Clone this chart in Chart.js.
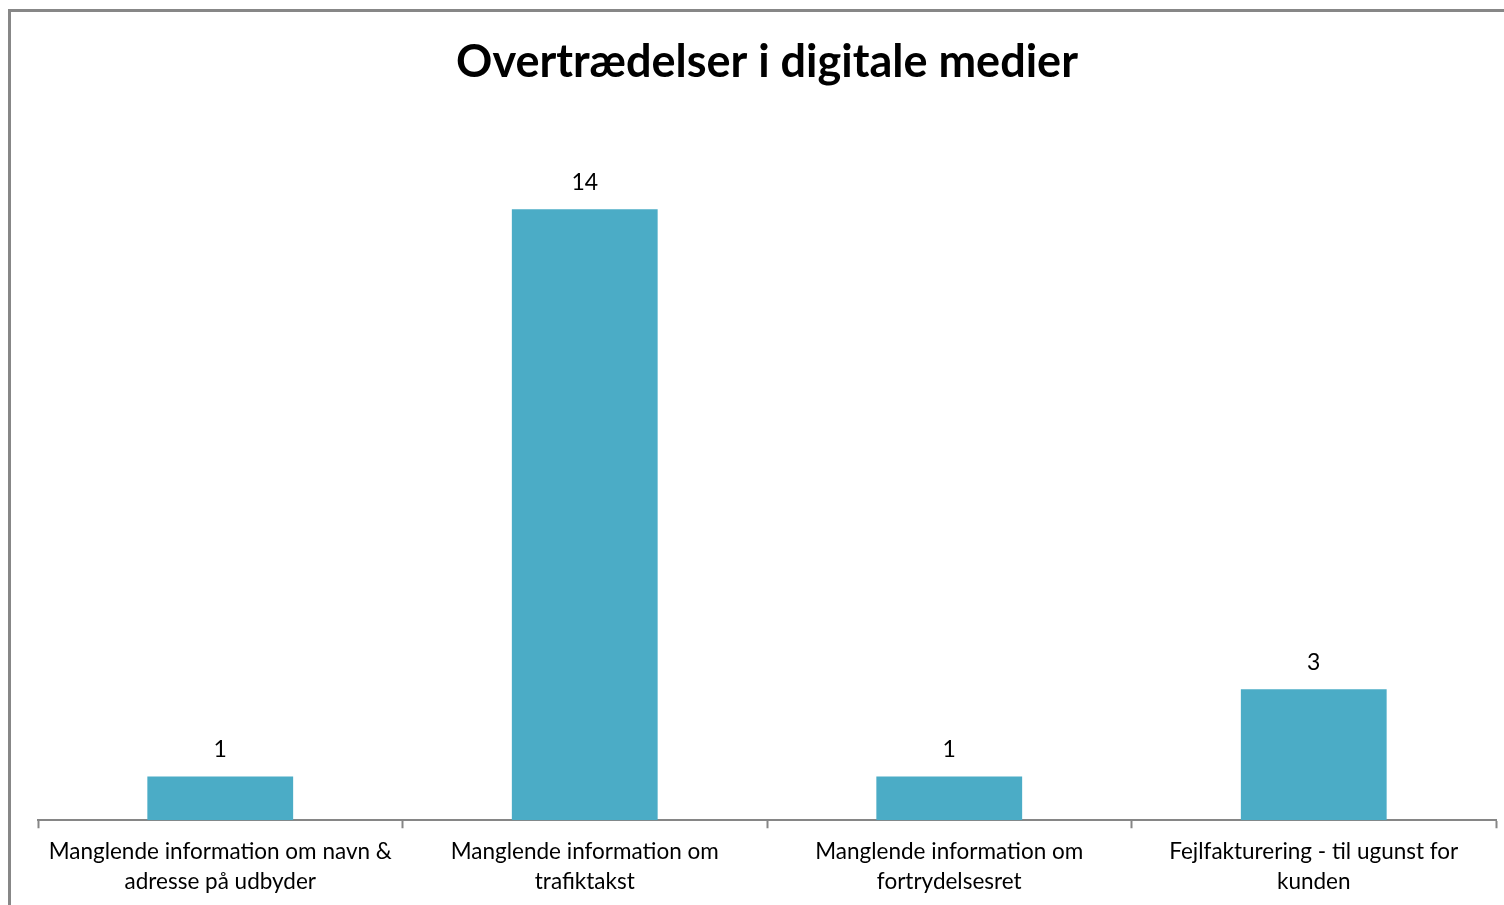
<!DOCTYPE html>
<html>
<head>
<meta charset="utf-8">
<script src="https://cdn.jsdelivr.net/npm/chart.js@4/dist/chart.umd.min.js"></script>
<style>
  html, body { margin: 0; padding: 0; background: #fff; }
  #wrap { position: absolute; left: 0; top: 0; width: 1504px; height: 905px; }
  #frame { position: absolute; left: 8px; top: 9px; right: 0; bottom: -10px;
           border-top: 3px solid #878787; border-left: 3px solid #878787; }
</style>
</head>
<body>
<div id="wrap">
  <canvas id="chart" width="1504" height="905"></canvas>
  <div id="frame"></div>
</div>
<script>
const TITLE = "Overtrædelser i digitale medier";
const CATEGORIES = [
  ["Manglende information om navn &", "adresse på udbyder"],
  ["Manglende information om", "trafiktakst"],
  ["Manglende information om", "fortrydelsesret"],
  ["Fejlfakturering - til ugunst for", "kunden"],
];
const VALUES = [1, 14, 1, 3];
const Y_MAX = 16;

const BAR_COLOR = "#4BACC6";
const AXIS_COLOR = "#868686";
const FONT = "Lato, 'Open Sans', sans-serif";

// value labels above each bar
const valueLabels = {
  id: "valueLabels",
  afterDatasetsDraw(chart) {
    const ctx = chart.ctx;
    const meta = chart.getDatasetMeta(0);
    ctx.save();
    ctx.fillStyle = "#000";
    ctx.font = `23px ${FONT}`;
    ctx.textAlign = "center";
    ctx.textBaseline = "middle";
    meta.data.forEach((bar, i) => {
      ctx.fillText(String(chart.data.datasets[0].data[i]), bar.x, bar.y - 27);
    });
    ctx.restore();
  },
};

new Chart(document.getElementById("chart"), {
  type: "bar",
  data: {
    labels: CATEGORIES,
    datasets: [
      {
        data: VALUES,
        backgroundColor: BAR_COLOR,
        borderWidth: 0,
        categoryPercentage: 1,
        barPercentage: 0.4,
      },
    ],
  },
  options: {
    responsive: false,
    animation: false,
    layout: { padding: { left: 38, right: 8, top: 0, bottom: 0 } },
    scales: {
      x: {
        grid: {
          drawOnChartArea: false,
          drawTicks: true,
          tickLength: 8,
          tickColor: AXIS_COLOR,
          tickWidth: 2,
        },
        border: { color: AXIS_COLOR, width: 2 },
        ticks: {
          color: "#000",
          font: { family: FONT, size: 22.5, lineHeight: 1.35 },
          padding: 8,
          maxRotation: 0,
          autoSkip: false,
        },
      },
      y: {
        display: false,
        min: 0,
        max: Y_MAX,
      },
    },
    plugins: {
      legend: { display: false },
      tooltip: { enabled: false },
      title: {
        display: true,
        text: TITLE,
        color: "#000",
        font: { family: FONT, size: 45, weight: "bold", lineHeight: 1.2 },
        padding: { top: 35, bottom: 33 },
      },
    },
  },
  plugins: [valueLabels],
});
</script>
</body>
</html>
